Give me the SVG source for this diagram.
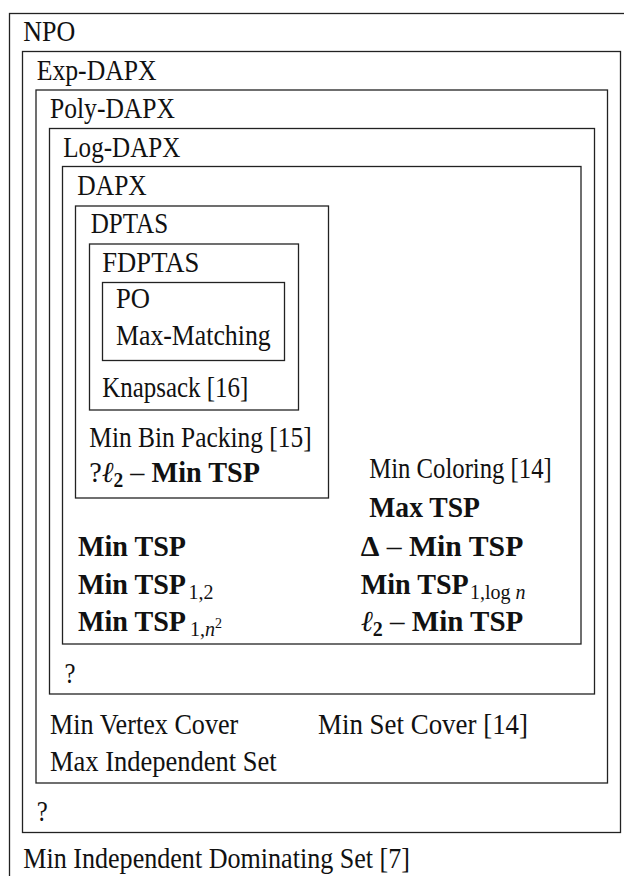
<svg xmlns="http://www.w3.org/2000/svg" width="624" height="876" viewBox="0 0 624 876">
<style>
rect.box{fill:none;stroke:#222;stroke-width:1.3}
text{font-family:"Liberation Serif","Times New Roman",serif;font-size:29px;fill:#111}
.b{font-weight:bold}
.i{font-style:italic}
text.sub,tspan.sub{font-size:20px}
tspan.sup{font-size:14px}
</style>
<rect width="624" height="876" fill="#fff"/>
<g id="npo">
<rect class="box" x="9.5" y="13.5" width="625" height="880"/>
<text x="23.3" y="41" textLength="52" lengthAdjust="spacingAndGlyphs">NPO</text>
<text x="23.3" y="868" textLength="386.7" lengthAdjust="spacingAndGlyphs">Min Independent Dominating Set [7]</text>
</g>
<g id="exp-dapx">
<rect class="box" x="22.5" y="51.5" width="598" height="781"/>
<text x="36.7" y="80" textLength="120" lengthAdjust="spacingAndGlyphs">Exp-DAPX</text>
<text x="36.7" y="820.5" textLength="11" lengthAdjust="spacingAndGlyphs">?</text>
</g>
<g id="poly-dapx">
<rect class="box" x="36" y="90" width="571.5" height="693"/>
<text x="50" y="118.3" textLength="125" lengthAdjust="spacingAndGlyphs">Poly-DAPX</text>
<text x="50" y="733.5" textLength="188.3" lengthAdjust="spacingAndGlyphs">Min Vertex Cover</text>
<text x="318" y="733.5" textLength="210" lengthAdjust="spacingAndGlyphs">Min Set Cover [14]</text>
<text x="50" y="770.5" textLength="226.7" lengthAdjust="spacingAndGlyphs">Max Independent Set</text>
</g>
<g id="log-dapx">
<rect class="box" x="49.5" y="128.5" width="545" height="565.5"/>
<text x="63.3" y="156.7" textLength="117" lengthAdjust="spacingAndGlyphs">Log-DAPX</text>
<text x="64.5" y="682.5" textLength="11" lengthAdjust="spacingAndGlyphs">?</text>
</g>
<g id="dapx">
<rect class="box" x="62.5" y="166.5" width="518.5" height="477.5"/>
<text x="77.3" y="195" textLength="69.5" lengthAdjust="spacingAndGlyphs">DAPX</text>
<text x="369.3" y="478" textLength="182.4" lengthAdjust="spacingAndGlyphs">Min Coloring [14]</text>
<text x="369.3" y="517" textLength="110.7" lengthAdjust="spacingAndGlyphs" class="b">Max TSP</text>
<text x="78" y="556" textLength="108" lengthAdjust="spacingAndGlyphs" class="b">Min TSP</text>
<text x="78" y="594" textLength="108" lengthAdjust="spacingAndGlyphs" class="b">Min TSP</text>
<text x="188.5" y="599" class="sub">1,2</text>
<text x="78" y="631" textLength="108" lengthAdjust="spacingAndGlyphs" class="b">Min TSP</text>
<text x="190" y="636" class="sub">1,<tspan class="i">n</tspan><tspan class="sup" dy="-8">2</tspan></text>
<text x="360.7" y="556" textLength="162.6" lengthAdjust="spacingAndGlyphs"><tspan class="b">Δ</tspan> – <tspan class="b">Min TSP</tspan></text>
<text x="360.7" y="594" textLength="108" lengthAdjust="spacingAndGlyphs" class="b">Min TSP</text>
<text x="470" y="599" class="sub">1,log <tspan class="i">n</tspan></text>
<text x="360.7" y="631" textLength="162.6" lengthAdjust="spacingAndGlyphs"><tspan class="i">ℓ</tspan><tspan class="b sub" dy="5">2</tspan><tspan dy="-5"> – </tspan><tspan class="b">Min TSP</tspan></text>
</g>
<g id="dptas">
<rect class="box" x="75.5" y="206" width="253" height="292"/>
<text x="90.7" y="233.3" textLength="77.5" lengthAdjust="spacingAndGlyphs">DPTAS</text>
<text x="89.3" y="446.7" textLength="222.4" lengthAdjust="spacingAndGlyphs">Min Bin Packing [15]</text>
<text x="89.3" y="481.7" textLength="170.7" lengthAdjust="spacingAndGlyphs"><tspan>?</tspan><tspan class="i">ℓ</tspan><tspan class="b sub" dy="5">2</tspan><tspan dy="-5"> – </tspan><tspan class="b">Min TSP</tspan></text>
</g>
<g id="fdptas">
<rect class="box" x="89.5" y="244" width="209" height="166"/>
<text x="102.3" y="271.7" textLength="97" lengthAdjust="spacingAndGlyphs">FDPTAS</text>
<text x="102.3" y="397.3" textLength="146" lengthAdjust="spacingAndGlyphs">Knapsack [16]</text>
</g>
<g id="po">
<rect class="box" x="102.5" y="282.5" width="182" height="78"/>
<text x="116" y="308.3" textLength="34" lengthAdjust="spacingAndGlyphs">PO</text>
<text x="116" y="345" textLength="154.7" lengthAdjust="spacingAndGlyphs">Max-Matching</text>
</g>
<g id="connectors"/>
</svg>
